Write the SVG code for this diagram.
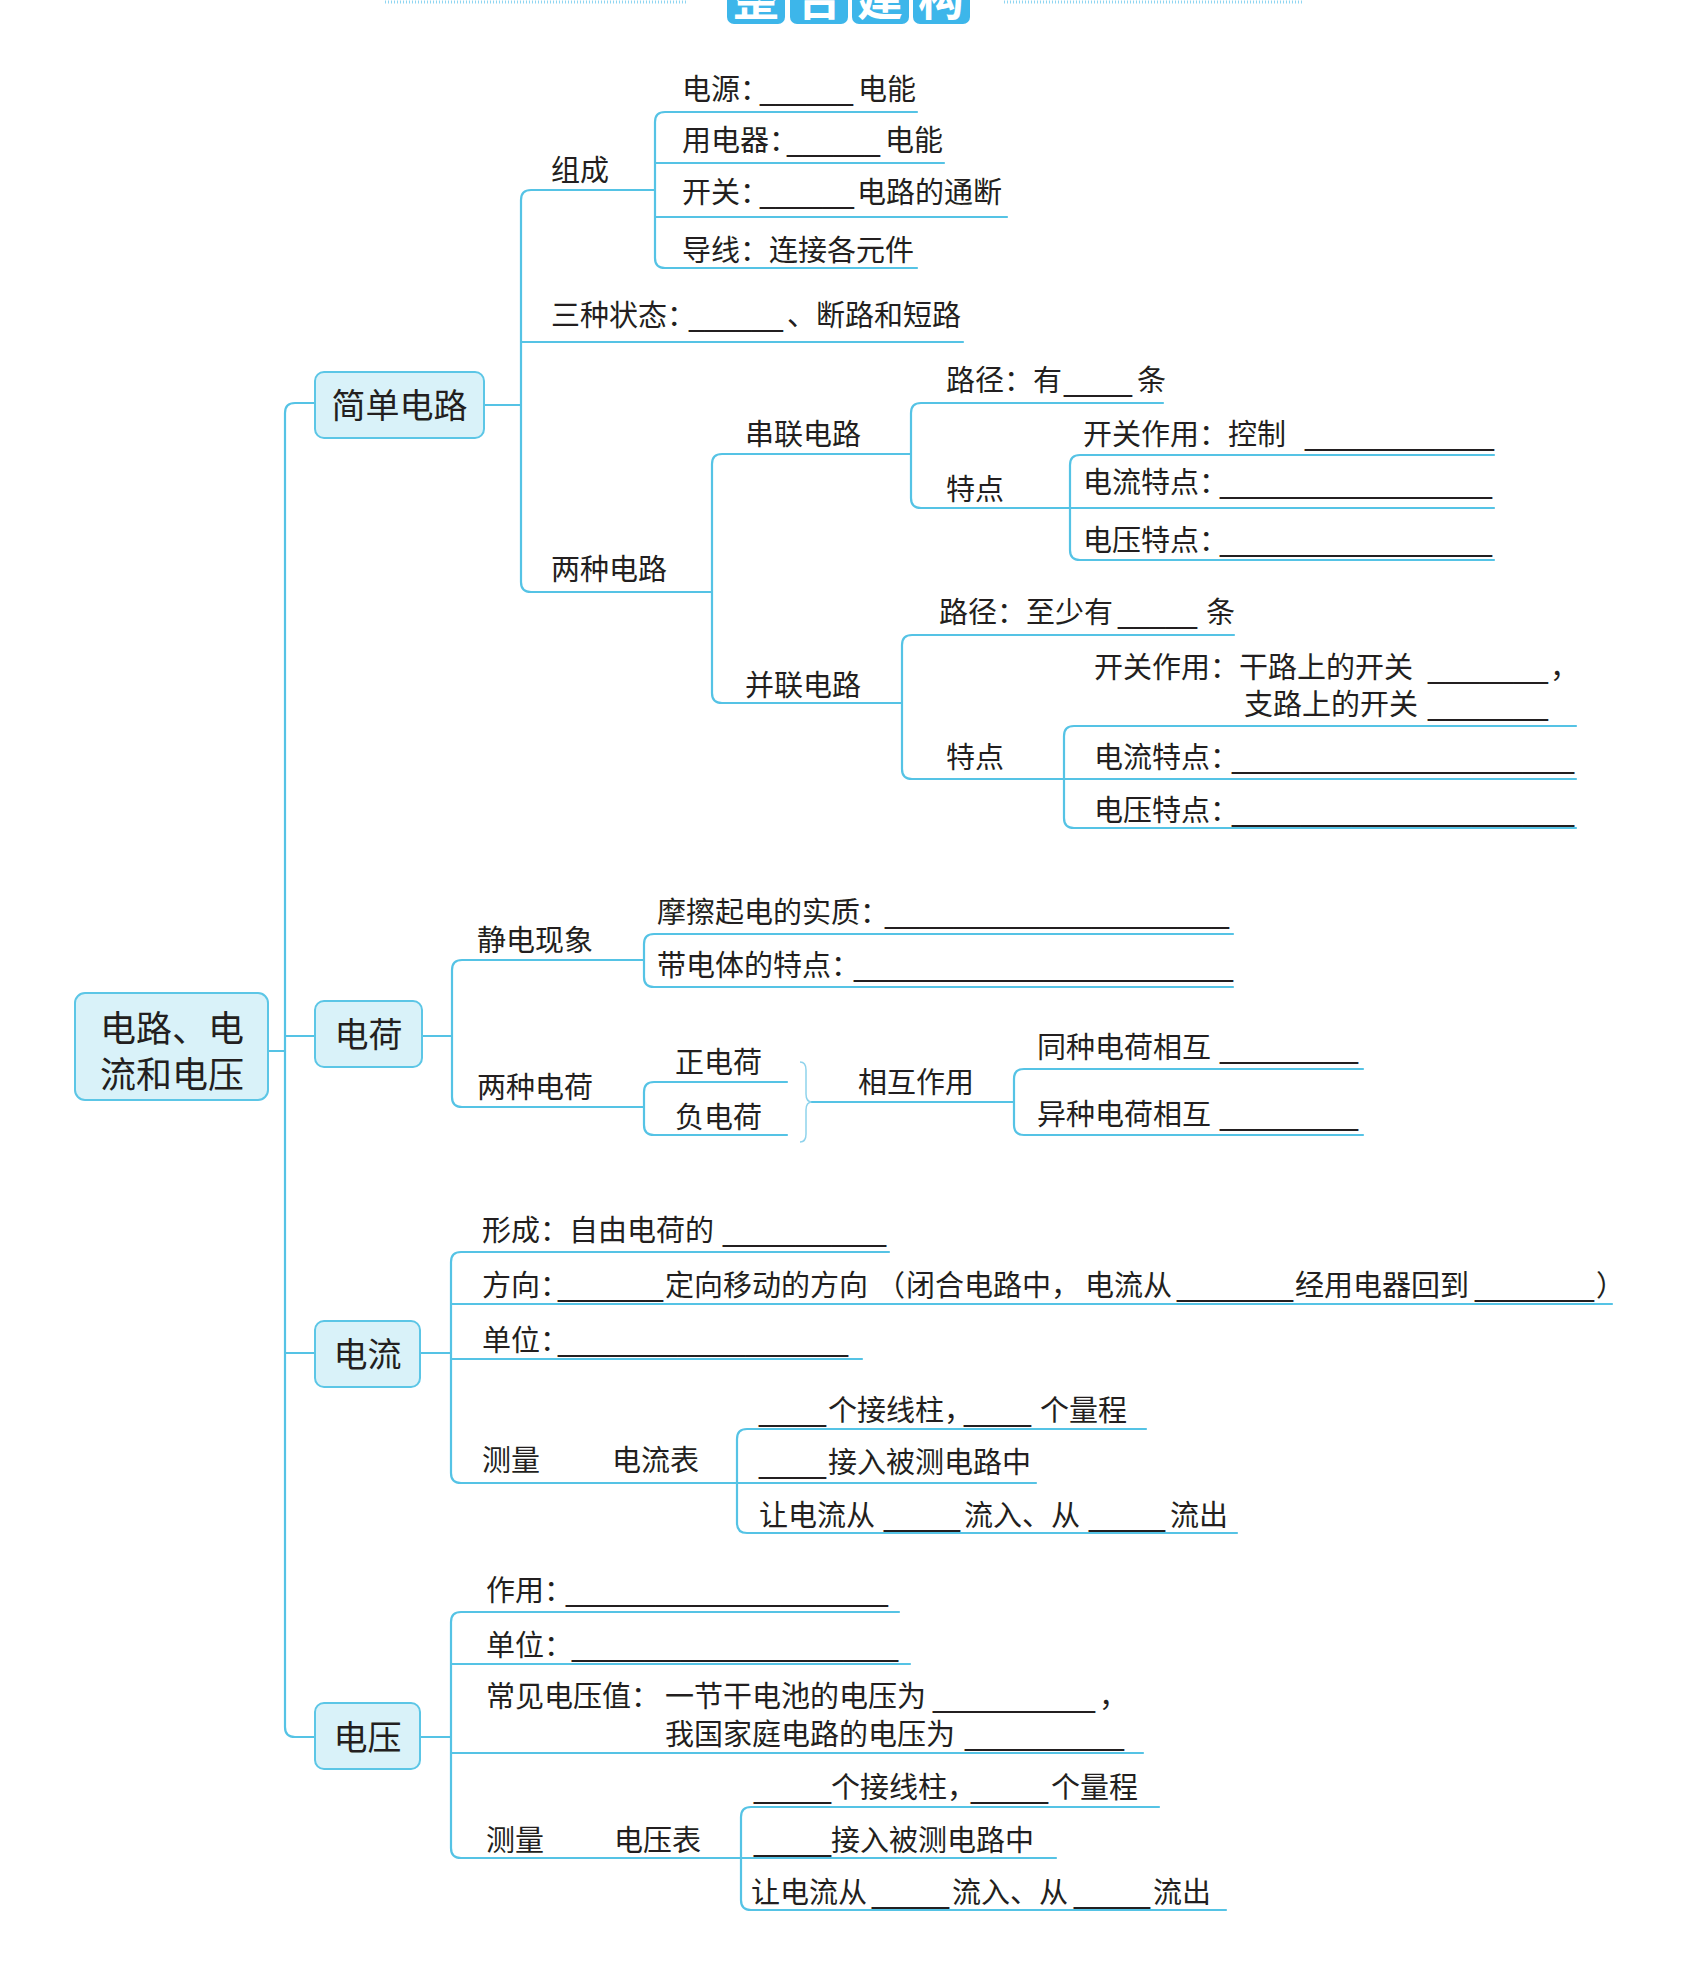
<svg xmlns="http://www.w3.org/2000/svg" width="1692" height="1987" viewBox="0 0 1692 1987">
<style>
.t{font-family:"Noto Sans CJK SC","Noto Sans",sans-serif;font-size:29px;fill:#231f20}
.u{font-family:"Liberation Sans",sans-serif}
.h{font-feature-settings:"halt"}
.bx{fill:#d9f2f9;stroke:#5cc6e6;stroke-width:2}
.bt{font-family:"Noto Sans CJK SC","Noto Sans",sans-serif;font-size:34px;fill:#231f20;text-anchor:middle}
.c{fill:none;stroke:#55c3e5;stroke-width:2.2;stroke-linecap:round}
.hb{fill:#3db6ea}
.ht{font-family:"Noto Sans CJK SC",sans-serif;font-size:46px;font-weight:bold;fill:#fff;text-anchor:middle}
.dot{stroke:#8fd6f2;stroke-width:3;stroke-dasharray:1 2}
</style>
<rect width="1692" height="1987" fill="#fff"/>
<g id="header">
<line class="dot" x1="385" y1="2" x2="688" y2="2"/>
<line class="dot" x1="1004" y1="2" x2="1304" y2="2"/>
<rect class="hb" x="727" y="-30" width="58" height="54" rx="7"/>
<rect class="hb" x="790" y="-30" width="58" height="54" rx="7"/>
<rect class="hb" x="852" y="-30" width="57" height="54" rx="7"/>
<rect class="hb" x="913" y="-30" width="57" height="54" rx="7"/>
<text class="ht" x="756" y="15">整</text>
<text class="ht" x="819" y="15">合</text>
<text class="ht" x="880" y="15">建</text>
<text class="ht" x="941" y="15">构</text>
</g>
<g id="connectors">
<path class="c" d="M268,1051 H285"/>
<path class="c" d="M315,403 H295 Q285,403 285,413 V1727 Q285,1737 295,1737 H315"/>
<path class="c" d="M285,1036 H315 M285,1353 H315"/>
<path class="c" d="M484,405 H521"/>
<path class="c" d="M655,190 H531 Q521,190 521,200 V582 Q521,592 531,592 H712"/>
<path class="c" d="M521,342 H963"/>
<path class="c" d="M917,112 H665 Q655,112 655,122 V258 Q655,268 665,268 H917"/>
<path class="c" d="M655,163 H944 M655,217 H1007"/>
<path class="c" d="M911,454 H722 Q712,454 712,464 V693 Q712,703 722,703 H902"/>
<path class="c" d="M1163,403 H921 Q911,403 911,413 V498 Q911,508 921,508 H1494"/>
<path class="c" d="M1494,455 H1080 Q1070,455 1070,465 V550 Q1070,560 1080,560 H1494"/>
<path class="c" d="M1234,635 H912 Q902,635 902,645 V769 Q902,779 912,779 H1576"/>
<path class="c" d="M1576,726 H1074 Q1064,726 1064,736 V818 Q1064,828 1074,828 H1576"/>
<path class="c" d="M422,1036 H452"/>
<path class="c" d="M644,960 H462 Q452,960 452,970 V1097 Q452,1107 462,1107 H644"/>
<path class="c" d="M1233,934 H654 Q644,934 644,944 V977 Q644,987 654,987 H1233"/>
<path class="c" d="M787,1082 H654 Q644,1082 644,1092 V1125 Q644,1135 654,1135 H787"/>
<path fill="none" stroke="#8fd3ec" stroke-width="1.5" d="M800,1062 Q806,1062 806,1070 V1094 Q806,1102 812,1102 Q806,1102 806,1110 V1134 Q806,1142 800,1142"/>
<path class="c" d="M812,1102 H1014"/>
<path class="c" d="M1363,1069 H1024 Q1014,1069 1014,1079 V1125 Q1014,1135 1024,1135 H1363"/>
<path class="c" d="M420,1353 H451"/>
<path class="c" d="M889,1252 H461 Q451,1252 451,1262 V1473 Q451,1483 461,1483 H737"/>
<path class="c" d="M451,1304 H1612 M451,1359 H862"/>
<path class="c" d="M1146,1429 H747 Q737,1429 737,1439 V1523 Q737,1533 747,1533 H1237"/>
<path class="c" d="M737,1483 H1036"/>
<path class="c" d="M420,1737 H451"/>
<path class="c" d="M899,1612 H461 Q451,1612 451,1622 V1848 Q451,1858 461,1858 H741"/>
<path class="c" d="M451,1664 H910 M451,1753 H1143"/>
<path class="c" d="M1159,1807 H751 Q741,1807 741,1817 V1900 Q741,1910 751,1910 H1226"/>
<path class="c" d="M741,1858 H1056"/>
</g>
<g id="root">
<rect class="bx" x="75" y="993" width="193" height="107" rx="10"/>
<text class="bt" style="font-size:36px" x="172" y="1042">电路、电</text>
<text class="bt" style="font-size:36px" x="172" y="1088">流和电压</text>
</g>
<g id="n-simple">
<rect class="bx" x="315" y="372" width="169" height="66" rx="9"/>
<text class="bt" x="399.5" y="418">简单电路</text>
</g>
<g id="n-charge">
<rect class="bx" x="315" y="1001" width="107" height="66" rx="9"/>
<text class="bt" x="368.5" y="1047">电荷</text>
</g>
<g id="n-current">
<rect class="bx" x="315" y="1321" width="105" height="66" rx="9"/>
<text class="bt" x="367.5" y="1367">电流</text>
</g>
<g id="n-voltage">
<rect class="bx" x="315" y="1703" width="105" height="66" rx="9"/>
<text class="bt" x="367.5" y="1750">电压</text>
</g>
<g id="simple-children">
<text class="t" y="100"><tspan class="h" x="682">电源：</tspan><tspan class="u" x="760" textLength="93" lengthAdjust="spacingAndGlyphs">______</tspan><tspan x="858">电能</tspan></text>
<text class="t" y="151"><tspan class="h" x="682">用电器：</tspan><tspan class="u" x="787" textLength="93" lengthAdjust="spacingAndGlyphs">______</tspan><tspan x="885">电能</tspan></text>
<text class="t" y="203"><tspan class="h" x="682">开关：</tspan><tspan class="u" x="760" textLength="94" lengthAdjust="spacingAndGlyphs">______</tspan><tspan x="857">电路的通断</tspan></text>
<text class="t" x="682" y="261">导线：连接各元件</text>
<text class="t" x="551" y="181">组成</text>
<text class="t" y="326"><tspan class="h" x="551">三种状态：</tspan><tspan class="u" x="689" textLength="94" lengthAdjust="spacingAndGlyphs">______</tspan><tspan x="787">、断路和短路</tspan></text>
<text class="t" x="551" y="580">两种电路</text>
<text class="t" x="745" y="445">串联电路</text>
<text class="t" x="745" y="696">并联电路</text>
<text class="t" y="391"><tspan x="946">路径：有</tspan><tspan class="u" x="1064" textLength="68" lengthAdjust="spacingAndGlyphs">____</tspan><tspan x="1137">条</tspan></text>
<text class="t" x="946" y="500">特点</text>
<text class="t" y="445"><tspan x="1083">开关作用：控制</tspan><tspan class="u" x="1305" textLength="189" lengthAdjust="spacingAndGlyphs">___________</tspan></text>
<text class="t" y="493"><tspan class="h" x="1083">电流特点：</tspan><tspan class="u" x="1220" textLength="272" lengthAdjust="spacingAndGlyphs">________________</tspan></text>
<text class="t" y="551"><tspan class="h" x="1083">电压特点：</tspan><tspan class="u" x="1220" textLength="272" lengthAdjust="spacingAndGlyphs">________________</tspan></text>
<text class="t" y="623"><tspan x="939">路径：至少有</tspan><tspan class="u" x="1118" textLength="79" lengthAdjust="spacingAndGlyphs">_____</tspan><tspan x="1206">条</tspan></text>
<text class="t" y="678"><tspan x="1094">开关作用：干路上的开关</tspan><tspan class="u" x="1428" textLength="120" lengthAdjust="spacingAndGlyphs">_______</tspan><tspan x="1550">，</tspan></text>
<text class="t" y="715"><tspan x="1244">支路上的开关</tspan><tspan class="u" x="1428" textLength="120" lengthAdjust="spacingAndGlyphs">_______</tspan></text>
<text class="t" x="946" y="768">特点</text>
<text class="t" y="768"><tspan class="h" x="1094">电流特点：</tspan><tspan class="u" x="1232" textLength="342" lengthAdjust="spacingAndGlyphs">____________________</tspan></text>
<text class="t" y="821"><tspan class="h" x="1094">电压特点：</tspan><tspan class="u" x="1232" textLength="342" lengthAdjust="spacingAndGlyphs">____________________</tspan></text>
</g>
<g id="charge-children">
<text class="t" x="477" y="951">静电现象</text>
<text class="t" y="923"><tspan class="h" x="657">摩擦起电的实质：</tspan><tspan class="u" x="885" textLength="344" lengthAdjust="spacingAndGlyphs">____________________</tspan></text>
<text class="t" y="976"><tspan class="h" x="657">带电体的特点：</tspan><tspan class="u" x="854" textLength="379" lengthAdjust="spacingAndGlyphs">______________________</tspan></text>
<text class="t" x="477" y="1098">两种电荷</text>
<text class="t" x="675" y="1073">正电荷</text>
<text class="t" x="675" y="1128">负电荷</text>
<text class="t" x="858" y="1093">相互作用</text>
<text class="t" y="1058"><tspan x="1037">同种电荷相互</tspan><tspan class="u" x="1220" textLength="138" lengthAdjust="spacingAndGlyphs">________</tspan></text>
<text class="t" y="1125"><tspan x="1037">异种电荷相互</tspan><tspan class="u" x="1220" textLength="138" lengthAdjust="spacingAndGlyphs">________</tspan></text>
</g>
<g id="current-children">
<text class="t" y="1241"><tspan x="482">形成：自由电荷的</tspan><tspan class="u" x="723" textLength="163" lengthAdjust="spacingAndGlyphs">_________</tspan></text>
<text class="t" y="1296"><tspan class="h" x="482">方向：</tspan><tspan class="u" x="558" textLength="105" lengthAdjust="spacingAndGlyphs">______</tspan><tspan x="665">定向移动的方向</tspan><tspan x="876">（</tspan><tspan x="906">闭合电路中，</tspan><tspan x="1085">电流从</tspan><tspan class="u" x="1177" textLength="116" lengthAdjust="spacingAndGlyphs">_______</tspan><tspan x="1295">经用电器回到</tspan><tspan class="u" x="1475" textLength="119" lengthAdjust="spacingAndGlyphs">_______</tspan><tspan x="1596">）</tspan></text>
<text class="t" y="1351"><tspan class="h" x="482">单位：</tspan><tspan class="u" x="558" textLength="290" lengthAdjust="spacingAndGlyphs">_________________</tspan></text>
<text class="t" x="482" y="1471">测量</text>
<text class="t" x="612" y="1471">电流表</text>
<text class="t" y="1421"><tspan class="u" x="759" textLength="67" lengthAdjust="spacingAndGlyphs">____</tspan><tspan class="h" x="828">个接线柱，</tspan><tspan class="u" x="964" textLength="67" lengthAdjust="spacingAndGlyphs">____</tspan><tspan x="1040">个量程</tspan></text>
<text class="t" y="1473"><tspan class="u" x="759" textLength="67" lengthAdjust="spacingAndGlyphs">____</tspan><tspan x="828">接入被测电路中</tspan></text>
<text class="t" y="1526"><tspan x="759">让电流从</tspan><tspan class="u" x="884" textLength="76" lengthAdjust="spacingAndGlyphs">____</tspan><tspan x="964">流入、从</tspan><tspan class="u" x="1089" textLength="76" lengthAdjust="spacingAndGlyphs">____</tspan><tspan x="1170">流出</tspan></text>
</g>
<g id="voltage-children">
<text class="t" y="1601"><tspan class="h" x="486">作用：</tspan><tspan class="u" x="566" textLength="322" lengthAdjust="spacingAndGlyphs">__________________</tspan></text>
<text class="t" y="1656"><tspan class="h" x="486">单位：</tspan><tspan class="u" x="572" textLength="326" lengthAdjust="spacingAndGlyphs">__________________</tspan></text>
<text class="t" y="1707"><tspan x="486">常见电压值：</tspan><tspan x="665">一节干电池的电压为</tspan><tspan class="u" x="933" textLength="162" lengthAdjust="spacingAndGlyphs">_________</tspan><tspan x="1099">，</tspan></text>
<text class="t" y="1745"><tspan x="665">我国家庭电路的电压为</tspan><tspan class="u" x="965" textLength="159" lengthAdjust="spacingAndGlyphs">_________</tspan></text>
<text class="t" x="486" y="1851">测量</text>
<text class="t" x="614" y="1851">电压表</text>
<text class="t" y="1798"><tspan class="u" x="754" textLength="77" lengthAdjust="spacingAndGlyphs">____</tspan><tspan class="h" x="831">个接线柱，</tspan><tspan class="u" x="971" textLength="77" lengthAdjust="spacingAndGlyphs">____</tspan><tspan x="1051">个量程</tspan></text>
<text class="t" y="1851"><tspan class="u" x="754" textLength="77" lengthAdjust="spacingAndGlyphs">____</tspan><tspan x="831">接入被测电路中</tspan></text>
<text class="t" y="1903"><tspan x="751">让电流从</tspan><tspan class="u" x="872" textLength="77" lengthAdjust="spacingAndGlyphs">____</tspan><tspan x="952">流入、从</tspan><tspan class="u" x="1074" textLength="76" lengthAdjust="spacingAndGlyphs">____</tspan><tspan x="1153">流出</tspan></text>
</g>
</svg>
